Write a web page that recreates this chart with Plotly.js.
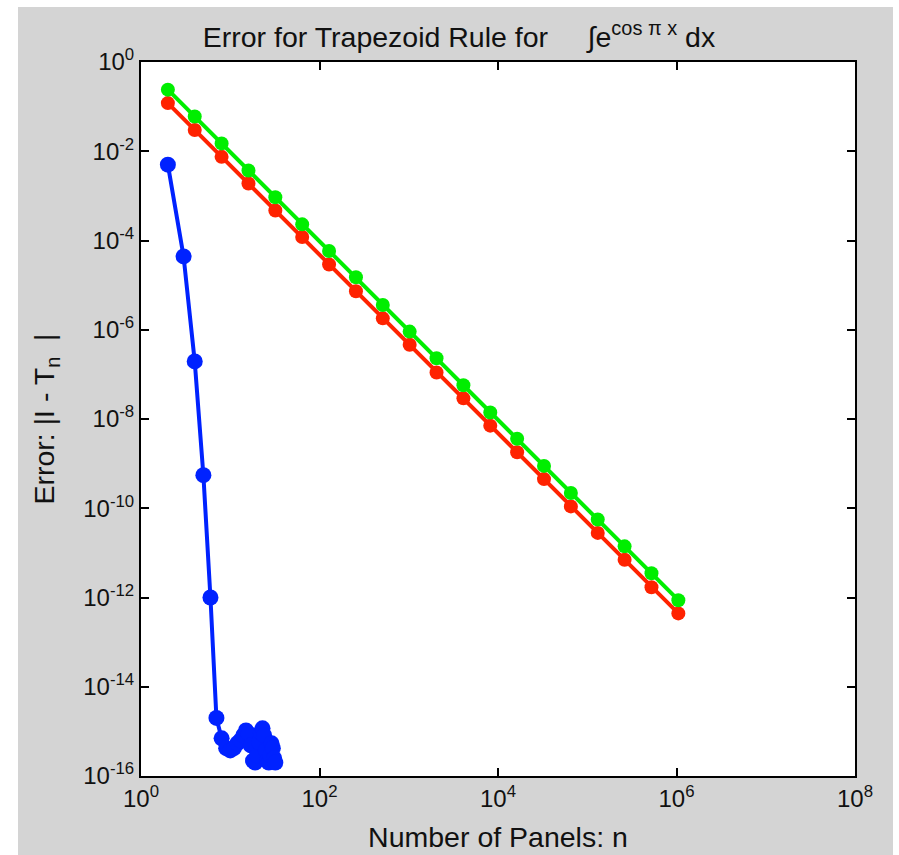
<!DOCTYPE html>
<html>
<head>
<meta charset="utf-8">
<script src="https://cdn.plot.ly/plotly-3.0.1.min.js"></script>
<style>
  html, body { margin: 0; padding: 0; background: #ffffff; }
  #chart { position: absolute; left: 18px; top: 7px; width: 875px; height: 848px; }
</style>
</head>
<body>
<div id="chart"></div>
<script>
// Number of panels for the two bound series
const nPow = [2, 4, 8, 16, 32, 64, 128, 256, 512, 1024, 2048, 4096, 8192, 16384,
              32768, 65536, 131072, 262144, 524288, 1048576];
// Red series
const redErr = [1.2e-1, 3.0e-2, 7.5e-3, 1.9e-3, 4.7e-4, 1.2e-4, 2.9e-5, 7.3e-6, 1.8e-6, 4.6e-7,
                1.1e-7, 2.9e-8, 7.1e-9, 1.8e-9, 4.5e-10, 1.1e-10, 2.8e-11, 7.0e-12, 1.7e-12, 4.4e-13];
// Green series
const greenErr = [2.4e-1, 6.0e-2, 1.5e-2, 3.7e-3, 9.3e-4, 2.3e-4, 5.8e-5, 1.5e-5, 3.6e-6, 9.1e-7,
                  2.3e-7, 5.7e-8, 1.4e-8, 3.6e-9, 8.9e-10, 2.2e-10, 5.6e-11, 1.4e-11, 3.5e-12, 8.7e-13];
// Blue series: actual error
const nBlue = [2, 3, 4, 5, 6, 7, 8, 9, 10, 11, 12, 13, 14, 15, 16, 17, 18, 19, 20,
               21, 22, 23, 24, 25, 26, 27, 28, 29, 30, 31, 32];
const blueErr = [5.0e-3, 4.4e-5, 1.95e-7, 5.5e-10, 1.0e-12, 2.0e-15,
                 7.0e-16, 4.2e-16, 3.75e-16, 4.2e-16, 5.4e-16, 6.3e-16, 8.1e-16, 1.05e-15, 9.0e-16,
                 4.85e-16, 2.2e-16, 2.0e-16, 2.9e-16, 5.7e-16, 9.5e-16, 1.17e-15, 8.1e-16, 3.75e-16,
                 2.2e-16, 2.0e-16, 2.9e-16, 5.4e-16, 4.2e-16, 2.5e-16, 2.0e-16];

const xTickVals = [1, 1e2, 1e4, 1e6, 1e8];
const xTickText = ['10<sup>0</sup>', '10<sup>2</sup>', '10<sup>4</sup>', '10<sup>6</sup>', '10<sup>8</sup>'];
const yTickVals = [1, 1e-2, 1e-4, 1e-6, 1e-8, 1e-10, 1e-12, 1e-14, 1e-16];
const yTickText = ['10<sup>0</sup>', '10<sup>-2</sup>', '10<sup>-4</sup>', '10<sup>-6</sup>', '10<sup>-8</sup>',
                   '10<sup>-10</sup>', '10<sup>-12</sup>', '10<sup>-14</sup>', '10<sup>-16</sup>'];

const font = 'Liberation Sans, Arial, sans-serif';

const traces = [
  { x: nPow, y: redErr, mode: 'lines+markers', type: 'scatter',
    line: { color: '#ff2200', width: 4 },
    marker: { symbol: 'circle', size: 14, color: '#ff2200' } },
  { x: nPow, y: greenErr, mode: 'lines+markers', type: 'scatter',
    line: { color: '#00ee00', width: 4 },
    marker: { symbol: 'circle', size: 14, color: '#00ee00' } },
  { x: nBlue, y: blueErr, mode: 'lines+markers', type: 'scatter',
    line: { color: '#0022ff', width: 4 },
    marker: { symbol: 'circle', size: 16, color: '#0022ff' } }
];

const axisCommon = {
  type: 'log', showgrid: false, zeroline: false,
  showline: true, linecolor: '#000', linewidth: 2, mirror: 'ticks',
  ticks: 'inside', ticklen: 8, tickwidth: 2, tickcolor: '#000',
  tickfont: { family: font, size: 24, color: '#111' }
};

const layout = {
  width: 875, height: 848,
  paper_bgcolor: '#d4d4d4', plot_bgcolor: '#ffffff',
  margin: { l: 123, r: 38, t: 55, b: 79 },
  showlegend: false,
  title: { text: 'Error for Trapezoid Rule for \u00A0\u00A0\u00A0 \u222Be<sup>cos \u03C0 x</sup> dx',
           x: 0.504, xref: 'container', xanchor: 'center', y: 0.965, yanchor: 'middle',
           font: { family: font, size: 28.5, color: '#111' } },
  xaxis: Object.assign({}, axisCommon, {
    range: [0, 8], tickvals: xTickVals, ticktext: xTickText,
    title: { text: 'Number of Panels: n', font: { family: font, size: 28.5, color: '#111' }, standoff: 16 }
  }),
  yaxis: Object.assign({}, axisCommon, {
    range: [-16, 0], tickvals: yTickVals, ticktext: yTickText,
    title: { text: 'Error: |I - T<sub>n</sub> \u00A0|', font: { family: font, size: 28.5, color: '#111' }, standoff: 20 }
  })
};

Plotly.newPlot('chart', traces, layout, { displayModeBar: false, staticPlot: true });
</script>
</body>
</html>
